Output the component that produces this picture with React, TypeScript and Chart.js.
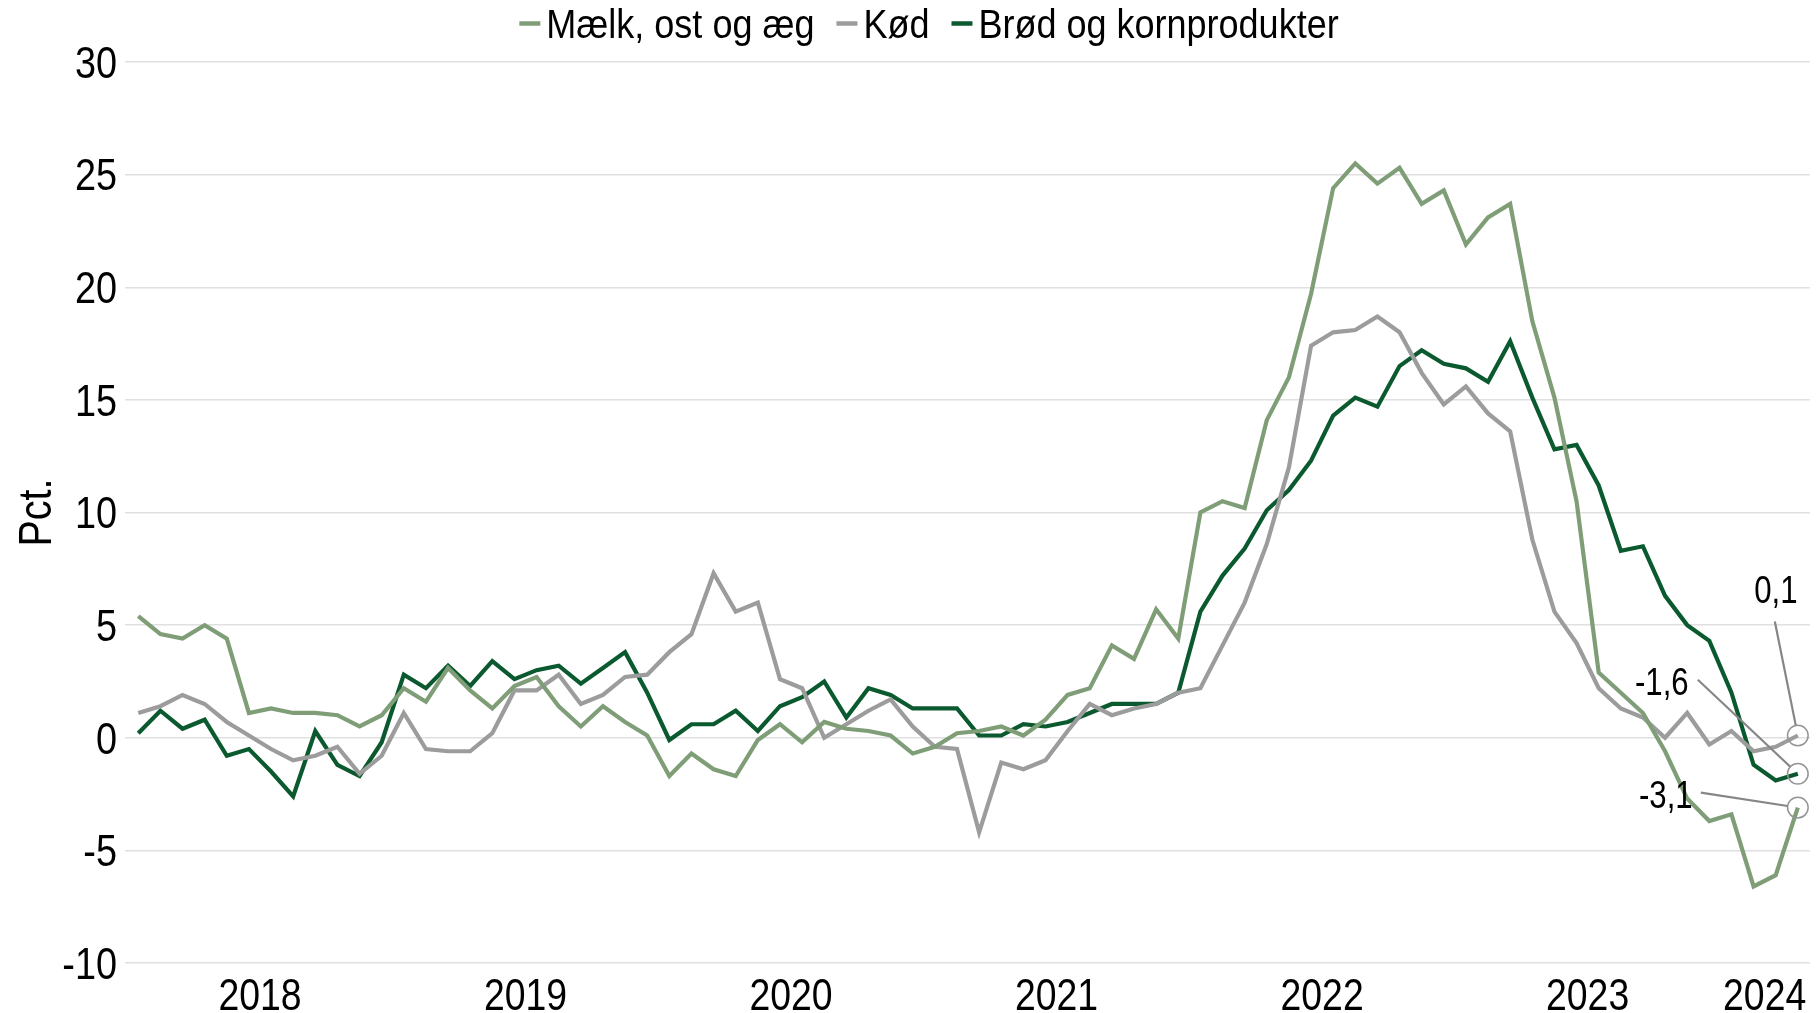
import React, { useEffect, useRef } from 'react';
import { Chart, registerables } from 'chart.js';

Chart.register(...registerables);

const FONT = "'Liberation Sans', Arial, sans-serif";

// Monthly data, Jan 2018 .. Apr 2024
const seriesNames = ['Mælk, ost og æg', 'Kød', 'Brød og kornprodukter'];
const seriesColors = ['#7f9e78', '#9c9c9c', '#0b5a2f'];

const maelk = [
  5.4, 4.6, 4.4, 5.0, 4.4, 1.1, 1.3, 1.1, 1.1, 1.0, 0.5, 1.0,
  2.2, 1.6, 3.1, 2.1, 1.3, 2.3, 2.7, 1.4, 0.5, 1.4, 0.7, 0.1,
  -1.7, -0.7, -1.4, -1.7, -0.1, 0.6, -0.2, 0.7, 0.4, 0.3, 0.1, -0.7,
  -0.4, 0.2, 0.3, 0.5, 0.1, 0.8, 1.9, 2.2, 4.1, 3.5, 5.7, 4.4,
  10.0, 10.5, 10.2, 14.1, 16.0, 19.7, 24.4, 25.5, 24.6, 25.3, 23.7, 24.3,
  21.9, 23.1, 23.7, 18.5, 15.1, 10.5, 2.9, 2.0, 1.1, -0.6, -2.7, -3.7,
  -3.4, -6.6, -6.1, -3.1,
];

const koed = [
  1.1, 1.4, 1.9, 1.5, 0.7, 0.1, -0.5, -1.0, -0.8, -0.4, -1.6, -0.8,
  1.1, -0.5, -0.6, -0.6, 0.2, 2.1, 2.1, 2.8, 1.5, 1.9, 2.7, 2.8,
  3.8, 4.6, 7.3, 5.6, 6.0, 2.6, 2.2, 0.0, 0.6, 1.2, 1.7, 0.5,
  -0.4, -0.5, -4.2, -1.1, -1.4, -1.0, 0.3, 1.5, 1.0, 1.3, 1.5, 2.0,
  2.2, 4.1, 6.0, 8.6, 12.0, 17.4, 18.0, 18.1, 18.7, 18.0, 16.2, 14.8,
  15.6, 14.4, 13.6, 8.8, 5.6, 4.2, 2.2, 1.3, 0.9, 0.0, 1.1, -0.3,
  0.3, -0.6, -0.4, 0.1,
];

const broed = [
  0.2, 1.2, 0.4, 0.8, -0.8, -0.5, -1.5, -2.6, 0.3, -1.2, -1.7, -0.2,
  2.8, 2.2, 3.2, 2.3, 3.4, 2.6, 3.0, 3.2, 2.4, 3.1, 3.8, 2.0,
  -0.1, 0.6, 0.6, 1.2, 0.3, 1.4, 1.8, 2.5, 0.9, 2.2, 1.9, 1.3,
  1.3, 1.3, 0.1, 0.1, 0.6, 0.5, 0.7, 1.1, 1.5, 1.5, 1.5, 2.0,
  5.6, 7.2, 8.4, 10.1, 11.0, 12.3, 14.3, 15.1, 14.7, 16.5, 17.2, 16.6,
  16.4, 15.8, 17.6, 15.1, 12.8, 13.0, 11.2, 8.3, 8.5, 6.3, 5.0, 4.3,
  2.0, -1.2, -1.9, -1.6,
];

const yearLabels = ['2018', '2019', '2020', '2021', '2022', '2023', '2024'];
const yMin = -10;
const yMax = 30;
const yStep = 5;
const yTitle = 'Pct.';

const allSeries = [maelk, koed, broed];

// label offsets (pixels) from the last point of each series: text centre and leader start
const endLabelLayout = [
  { tx: -132, ty: -13, lx: -97, ly: -15 },
  { tx: -22, ty: -146, lx: -23, ly: -114 },
  { tx: -136, ty: -92, lx: -100, ly: -94 },
];

const nMonths = maelk.length;
const yearCenters = yearLabels.map((_, k) => {
  const start = k * 12;
  const end = Math.min(k * 12 + 11, nMonths - 1);
  return (start + end) / 2;
});

const fmt = (v: number) => v.toFixed(1).replace('.', ',');
const CAP = 0.716;

function drawText(
  ctx: CanvasRenderingContext2D,
  text: string,
  x: number,
  y: number,
  size: number,
  sx: number,
  align: CanvasTextAlign,
  rot = 0,
) {
  ctx.save();
  ctx.translate(x, y);
  if (rot) ctx.rotate(rot);
  ctx.scale(sx, 1);
  ctx.font = `${size}px ${FONT}`;
  ctx.fillStyle = '#000';
  ctx.textAlign = align;
  ctx.textBaseline = 'alphabetic';
  ctx.fillText(text, 0, 0);
  ctx.restore();
}

const textPlugin = {
  id: 'axisText',
  afterDraw(chart: any) {
    const ctx: CanvasRenderingContext2D = chart.ctx;
    const xs = chart.scales.x;
    const ys = chart.scales.y;
    // y tick labels
    const tSize = 44;
    ys.ticks.forEach((t: any) => {
      const gy = ys.getPixelForValue(t.value);
      drawText(ctx, String(t.value), ys.right - 8, gy + (tSize * CAP) / 2, tSize, 0.86, 'right');
    });
    // x tick labels
    yearCenters.forEach((c, k) => {
      drawText(ctx, yearLabels[k], xs.getPixelForValue(c), xs.top + 47, tSize, 0.85, 'center');
    });
    // y title
    drawText(ctx, yTitle, 51, (ys.top + ys.bottom) / 2, 46, 0.86, 'center', -Math.PI / 2);

    // legend
    ctx.save();
    const lSize = 40;
    const lsx = 0.9;
    ctx.font = `${lSize}px ${FONT}`;
    const markerW = 21;
    const gapMarker = 6;
    const gapItem = 22;
    const widths = seriesNames.map((n) => ctx.measureText(n).width * lsx);
    const total = widths.reduce((a, w) => a + markerW + gapMarker + w, 0) + gapItem * (seriesNames.length - 1);
    let x = 929 - total / 2;
    const baseY = 37.5;
    seriesNames.forEach((name, i) => {
      ctx.strokeStyle = seriesColors[i];
      ctx.lineWidth = 4.5;
      ctx.beginPath();
      ctx.moveTo(x, 23.5);
      ctx.lineTo(x + markerW, 23.5);
      ctx.stroke();
      x += markerW + gapMarker;
      drawText(ctx, name, x, baseY, lSize, lsx, 'left');
      x += widths[i] + gapItem;
    });
    ctx.restore();
  },
};

const endLabelPlugin = {
  id: 'endLabels',
  afterDatasetsDraw(chart: any) {
    const ctx: CanvasRenderingContext2D = chart.ctx;
    const xs = chart.scales.x;
    const ys = chart.scales.y;
    ctx.save();
    allSeries.forEach((data, i) => {
      const last = data.length - 1;
      const px = xs.getPixelForValue(last);
      const py = ys.getPixelForValue(data[last]);
      const L = endLabelLayout[i];
      const r = 10.3;
      ctx.strokeStyle = '#959595';
      ctx.lineWidth = 1.5;
      ctx.beginPath();
      ctx.arc(px, py, r, 0, Math.PI * 2);
      ctx.stroke();
      const sx = px + L.lx;
      const sy = py + L.ly;
      const dx = sx - px;
      const dy = sy - py;
      const d = Math.hypot(dx, dy);
      ctx.strokeStyle = '#868686';
      ctx.lineWidth = 2.2;
      ctx.beginPath();
      ctx.moveTo(sx, sy);
      ctx.lineTo(px + (dx / d) * r, py + (dy / d) * r);
      ctx.stroke();
      const aSize = 38;
      drawText(ctx, fmt(data[last]), px + L.tx, py + L.ty + (aSize * CAP) / 2, aSize, 0.82, 'center');
    });
    ctx.restore();
  },
};

export default function App() {
  const ref = useRef<HTMLCanvasElement | null>(null);

  useEffect(() => {
    if (!ref.current) return;
    const chart = new Chart(ref.current, {
      type: 'line',
      data: {
        datasets: allSeries.map((data, i) => ({
          label: seriesNames[i],
          data: data.map((v, idx) => ({ x: idx, y: v })),
          borderColor: seriesColors[i],
          backgroundColor: seriesColors[i],
          borderWidth: 4.2,
          pointRadius: 0,
          tension: 0,
          fill: false,
        })),
      },
      options: {
        responsive: false,
        animation: false,
        devicePixelRatio: 1,
        layout: { padding: { top: 62, right: 6, bottom: 0, left: 0 } },
        plugins: {
          legend: { display: false },
          tooltip: { enabled: false },
          title: { display: false },
        },
        scales: {
          x: {
            type: 'linear',
            min: -0.6,
            max: nMonths - 1 + 0.55,
            grid: { display: false },
            border: { display: false },
            afterBuildTicks: (scale: any) => {
              scale.ticks = yearCenters.map((v) => ({ value: v }));
            },
            afterFit: (scale: any) => {
              scale.height = 50;
            },
            ticks: { display: false },
          },
          y: {
            min: yMin,
            max: yMax,
            afterFit: (scale: any) => {
              scale.width = 125;
            },
            ticks: { stepSize: yStep, display: false },
            grid: { color: '#e0e0e0', lineWidth: 1.4, drawTicks: false },
            border: { display: false },
          },
        },
      },
      plugins: [endLabelPlugin, textPlugin],
    });
    return () => chart.destroy();
  }, []);

  return (
    <div style={{ position: 'fixed', left: 0, top: 0, width: 1816, height: 1013, background: '#fff' }}>
      <canvas ref={ref} width={1816} height={1013} style={{ display: 'block' }} />
    </div>
  );
}
